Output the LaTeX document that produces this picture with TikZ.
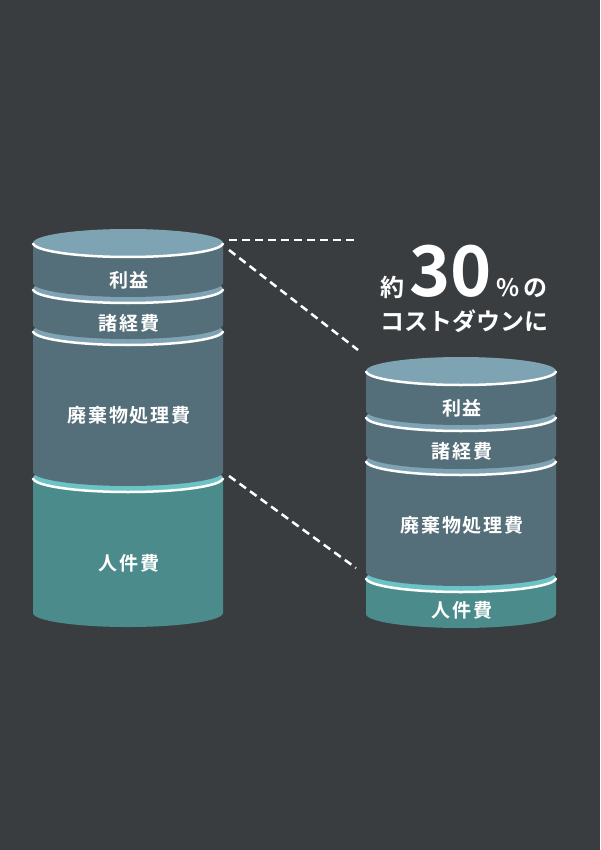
\documentclass[tikz,border=0pt]{standalone}
\usepackage{fontspec}
\setmainfont{Noto Sans CJK JP}[BoldFont={* Bold}]
\newfontfamily\layerfont{Noto Sans CJK JP}[BoldFont={* Bold},LetterSpace=10]
\usetikzlibrary{positioning}
\definecolor{bgcol}{HTML}{3A3D40}
\definecolor{facecol}{HTML}{7EA3B3}
\definecolor{bodycol}{HTML}{546F79}
\definecolor{tealface}{HTML}{6CC3C5}
\definecolor{tealbody}{HTML}{4C8B8B}

\begin{document}
\begin{tikzpicture}[x=1pt,y=-1pt,
  layertext/.style={text=white,font=\layerfont\bfseries\fontsize{19}{19}\selectfont},
  rim/.style={white,line width=2.5pt},
  cutline/.style={white,line width=2.5pt,dash pattern=on 8pt off 5pt}]
\fill[bgcol] (0,0) rectangle (600,850);
\useasboundingbox (0,0) rectangle (600,850);
% cylinders, bottom layer first
\foreach \cx/\top/\bot/\bcol/\fcol in {128/478/613/tealbody/tealface,128/331/472/bodycol/facecol,128/289/325/bodycol/facecol,128/243/283/bodycol/facecol,
  461/578/614/tealbody/tealface,461/461/572/bodycol/facecol,461/417/455/bodycol/facecol,461/371/411/bodycol/facecol}{
  \fill[\bcol] (\cx-95,\top) -- (\cx-95,\bot) arc[start angle=180,end angle=0,x radius=95,y radius=14] -- (\cx+95,\top) -- cycle;
  \fill[\fcol] (\cx,\top) ellipse[x radius=95,y radius=14];
  \draw[rim] (\cx-95,\top) arc[start angle=180,end angle=0,x radius=95,y radius=14];
}
% labels
\node[layertext] (lProfit) at (129,280) {利益};
\node[layertext] (lExpense) at (129,323) {諸経費};
\node[layertext] (lWaste) at (129,415) {廃棄物処理費};
\node[layertext] (lLabor) at (129,563) {人件費};
\node[layertext] (rProfit) at (462,408) {利益};
\node[layertext] (rExpense) at (462,451) {諸経費};
\node[layertext] (rWaste) at (462,525) {廃棄物処理費};
\node[layertext] (rLabor) at (462,610) {人件費};
% headline
\node[text=white,anchor=base,font=\bfseries] (cutRate) at (464,296) {{\fontsize{24}{24}\selectfont 約}\hspace{5pt}{\fontsize{70}{70}\selectfont 30}\hspace{4pt}{\fontsize{24}{24}\selectfont \%\hspace{4pt}の}};
\node[text=white,anchor=base,font=\bfseries\fontsize{24}{24}\selectfont] (cutText) at (464,330) {コストダウンに};
% dashed guides
\coordinate (lTopEdge) at (229,240);
\coordinate (rTopEnd) at (357,240);
\coordinate (lUpper) at (229,250);
\coordinate (rUpper) at (358,350);
\coordinate (lLower) at (229,476);
\coordinate (rLower) at (356,568);
\draw[cutline] (lTopEdge) -- (rTopEnd);
\draw[cutline] (lUpper) -- (rUpper);
\draw[cutline] (lLower) -- (rLower);
\end{tikzpicture}
\end{document}
